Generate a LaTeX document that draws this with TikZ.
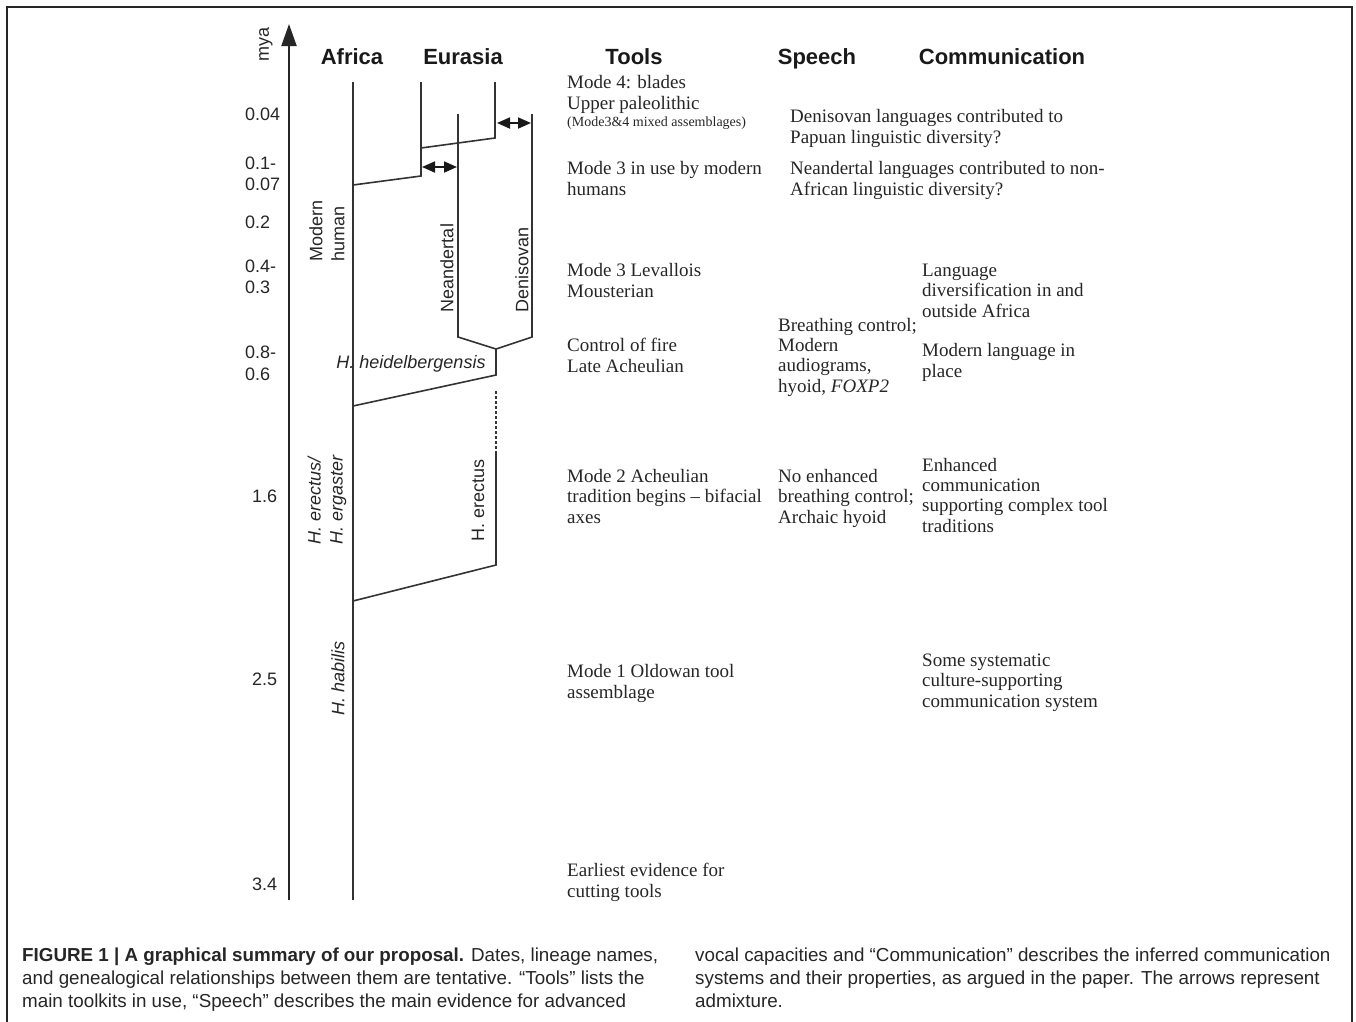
\documentclass[tikz,border=0pt]{standalone}
\usepackage{fontspec}
\setmainfont{Liberation Serif}
\setsansfont{Liberation Sans}
\usetikzlibrary{arrows.meta}
\tikzset{
  hdr/.style={font=\sffamily\bfseries\fontsize{22}{26}\selectfont, inner sep=0pt, anchor=base, text=black!90},
  datelab/.style={font=\sffamily\fontsize{18}{20}\selectfont, inner sep=0pt, anchor=west, text=black!85},
  linlab/.style={font=\sffamily\fontsize{18}{22}\selectfont, inner sep=0pt, text=black!85},
  txt/.style={font=\fontsize{19}{20.3}\selectfont, inner sep=0pt, anchor=base west, align=left, text=black!85},
  caption/.style={font=\sffamily\fontsize{18.8}{23}\selectfont, inner sep=0pt, anchor=base west, align=left, text=black!85},
  lineage/.style={line width=1.6pt, draw=black!80},
  admix/.style={{Triangle[length=13pt,width=11pt]}-{Triangle[length=13pt,width=11pt]}, line width=1.8pt, draw=black!90, fill=black!90},
}
\begin{document}
\begin{tikzpicture}[x=1pt,y=-1pt]
\useasboundingbox (0,0) rectangle (1356,1021);
% frame
\draw[line width=1.5pt, black!85] (7,1030) -- (7,7) -- (1352,7) -- (1352,1030);

% time axis
\coordinate (axbot) at (289,900);
\coordinate (axtop) at (289,24);
\draw[line width=2pt, black!85, -{Triangle[length=22pt,width=15pt]}] (axbot) -- (axtop);
\node[linlab, rotate=90] (mya) at (266,44) {mya};

% headers
\node[hdr] (hAfrica) at (352,64) {Africa};
\node[hdr] (hEurasia) at (463,64) {Eurasia};
\node[hdr] (hTools) at (634,64) {Tools};
\node[hdr] (hSpeech) at (817,64) {Speech};
\node[hdr] (hComm) at (1002,64) {Communication};

% dates
\node[datelab] (d1) at (245,114) {0.04};
\node[datelab] (d2a) at (245,163) {0.1-};
\node[datelab] (d2b) at (245,184) {0.07};
\node[datelab] (d3) at (245,222) {0.2};
\node[datelab] (d4a) at (245,266) {0.4-};
\node[datelab] (d4b) at (245,287) {0.3};
\node[datelab] (d5a) at (245,352) {0.8-};
\node[datelab] (d5b) at (245,374) {0.6};
\node[datelab] (d6) at (252,496) {1.6};
\node[datelab] (d7) at (252,679) {2.5};
\node[datelab] (d8) at (252,884) {3.4};

% lineage coordinates
\coordinate (afTop) at (353,82);
\coordinate (afBot) at (353,900);
\coordinate (ooa) at (353,185);
\coordinate (euJoin) at (421,176);
\coordinate (euTop) at (421,82);
\coordinate (euSplit) at (421,148);
\coordinate (papJoin) at (495,138);
\coordinate (papTop) at (495,82);
\coordinate (neaTop) at (458,114);
\coordinate (neaBot) at (458,337);
\coordinate (denTop) at (532,114);
\coordinate (denBot) at (532,337);
\coordinate (merge) at (496,349);
\coordinate (heidBot) at (496,375);
\coordinate (heidAf) at (353,406);
\coordinate (erTop) at (496,391);
\coordinate (erMid) at (496,452);
\coordinate (erBot) at (496,565);
\coordinate (erAf) at (353,601);

\draw[lineage] (afTop) -- (afBot);
\draw[lineage] (ooa) -- (euJoin) -- (euTop);
\draw[lineage] (euSplit) -- (papJoin) -- (papTop);
\draw[lineage] (neaTop) -- (neaBot) -- (merge) -- (denBot) -- (denTop);
\draw[lineage] (merge) -- (heidBot) -- (heidAf);
\draw[lineage, dashed, dash pattern=on 3pt off 2pt] (erTop) -- (erMid);
\draw[lineage] (erMid) -- (erBot) -- (erAf);

% admixture arrows
\coordinate (a1l) at (422,167);
\coordinate (a1r) at (457,167);
\coordinate (a2l) at (497,123);
\coordinate (a2r) at (531,123);
\draw[admix] (a1l) -- (a1r);
\draw[admix] (a2l) -- (a2r);

% lineage labels
\node[linlab, rotate=90, anchor=west, align=left] (modern) at (327,262) {Modern\\human};
\node[linlab, rotate=90] (nea) at (447,268) {Neandertal};
\node[linlab, rotate=90] (den) at (522,270) {Denisovan};
\node[linlab, anchor=base, font=\sffamily\itshape\fontsize{18}{22}\selectfont] (heid) at (411,368) {H. heidelbergensis};
\node[linlab, rotate=90, anchor=west, align=left, font=\sffamily\itshape\fontsize{18}{22}\selectfont] (erg) at (327,545) {H. erectus/\\H. ergaster};
\node[linlab, rotate=90] (erec) at (478,500) {H. erectus};
\node[linlab, rotate=90, font=\sffamily\itshape\fontsize{18}{22}\selectfont] (hab) at (338,678) {H. habilis};

% Tools (anchor = baseline of the last line)
\node[txt] (t1) at (567,109) {Mode 4: blades\\Upper paleolithic};
\node[txt, font=\fontsize{14}{15}\selectfont] (t1b) at (567,126) {(Mode3\&4 mixed assemblages)};
\node[txt] (t2) at (567,195) {Mode 3 in use by modern\\humans};
\node[txt] (t3) at (567,297) {Mode 3 Levallois\\Mousterian};
\node[txt] (t4) at (567,372) {Control of fire\\Late Acheulian};
\node[txt] (t5) at (567,523) {Mode 2 Acheulian\\tradition begins -- bifacial\\axes};
\node[txt] (t6) at (567,698) {Mode 1 Oldowan tool\\assemblage};
\node[txt] (t7) at (567,897) {Earliest evidence for\\cutting tools};

% Speech
\node[txt] (s1) at (778,392) {Breathing control;\\Modern\\audiograms,\\hyoid, \textit{FOXP2}};
\node[txt] (s2) at (778,523) {No enhanced\\breathing control;\\Archaic hyoid};

% Communication
\node[txt] (c1) at (790,143) {Denisovan languages contributed to\\Papuan linguistic diversity?};
\node[txt] (c2) at (790,195) {Neandertal languages contributed to non-\\African linguistic diversity?};
\node[txt] (c3) at (922,317) {Language\\diversification in and\\outside Africa};
\node[txt] (c4) at (922,377) {Modern language in\\place};
\node[txt] (c5) at (922,532) {Enhanced\\communication\\supporting complex tool\\traditions};
\node[txt] (c6) at (922,707) {Some systematic\\culture-supporting\\communication system};

% caption
\node[caption] (capL) at (22,1007) {\textbf{FIGURE 1 | A graphical summary of our proposal.} Dates, lineage names,\\and genealogical relationships between them are tentative. “Tools” lists the\\main toolkits in use, “Speech” describes the main evidence for advanced};
\node[caption] (capR) at (695,1007) {vocal capacities and “Communication” describes the inferred communication\\systems and their properties, as argued in the paper. The arrows represent\\admixture.};
\end{tikzpicture}
\end{document}
